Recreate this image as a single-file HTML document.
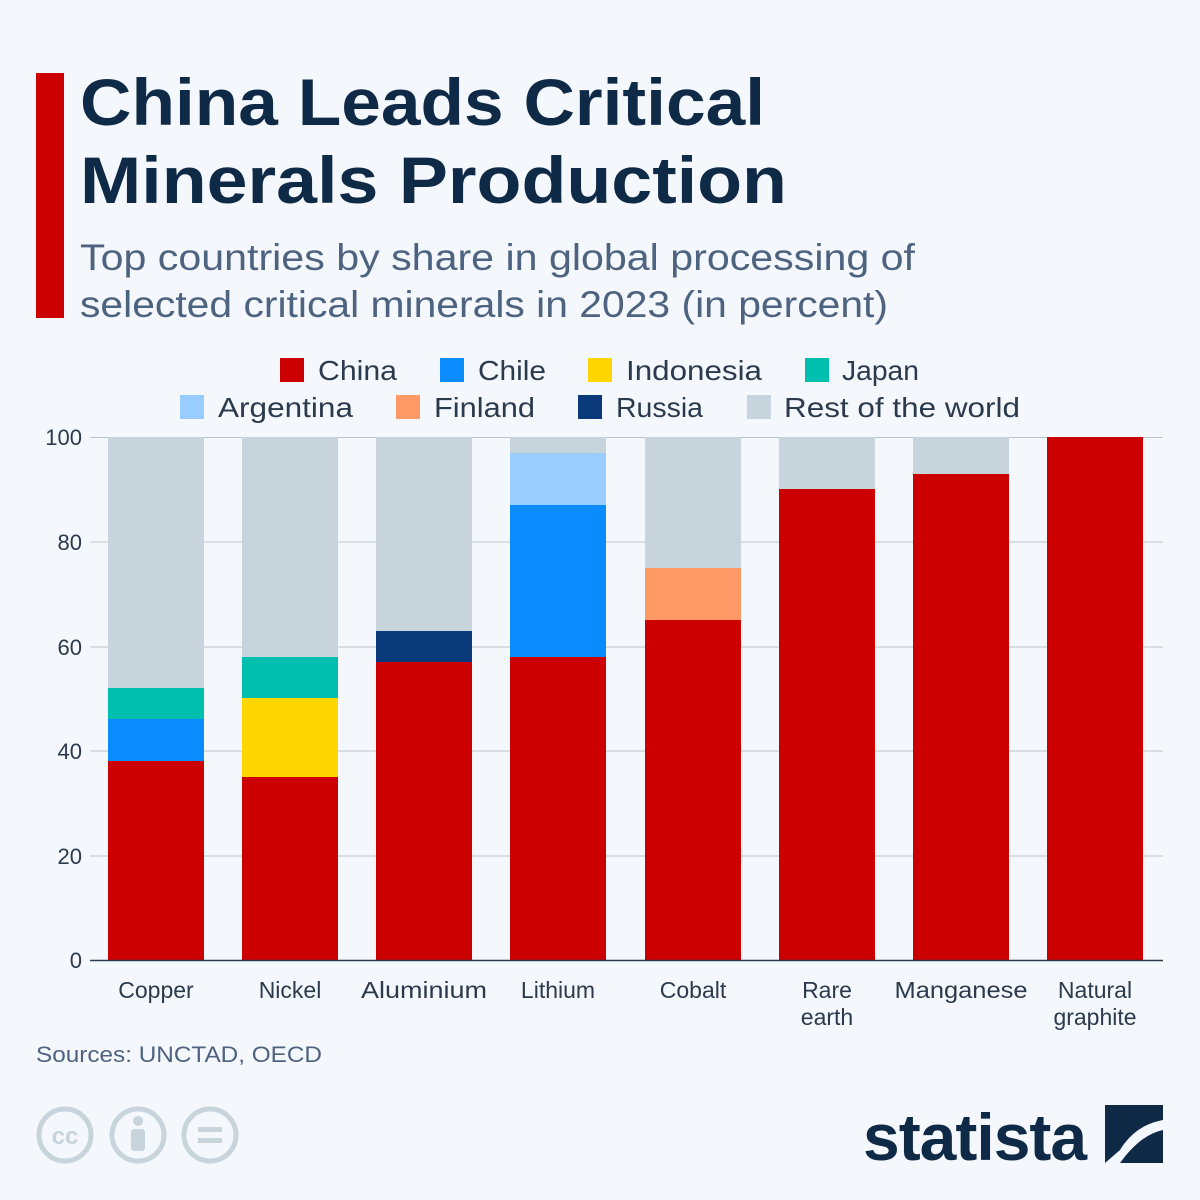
<!DOCTYPE html>
<html><head><meta charset="utf-8"><style>
html,body{margin:0;padding:0;background:#f4f7fb;}
svg{display:block;font-family:"Liberation Sans",sans-serif;}
</style></head><body>
<svg width="1200" height="1200" viewBox="0 0 1200 1200" xmlns="http://www.w3.org/2000/svg">
<rect width="1200" height="1200" fill="#f4f7fb"/>
<rect x="36" y="73" width="28" height="245" fill="#cc0000"/>
<text x="80" y="125" font-size="66" font-weight="bold" fill="#0f2a47" textLength="685" lengthAdjust="spacingAndGlyphs">China Leads Critical</text>
<text x="80" y="203" font-size="66" font-weight="bold" fill="#0f2a47" textLength="707" lengthAdjust="spacingAndGlyphs">Minerals Production</text>
<text x="80" y="270" font-size="37" fill="#4d6380" textLength="835" lengthAdjust="spacingAndGlyphs">Top countries by share in global processing of</text>
<text x="80" y="317" font-size="37" fill="#4d6380" textLength="808" lengthAdjust="spacingAndGlyphs">selected critical minerals in 2023 (in percent)</text>
<g font-size="28" fill="#2b3a4d">
<rect x="280" y="358" width="24" height="24" fill="#cc0000"/><text x="318" y="380" textLength="79" lengthAdjust="spacingAndGlyphs">China</text>
<rect x="440" y="358" width="24" height="24" fill="#0a8cff"/><text x="478" y="380" textLength="68" lengthAdjust="spacingAndGlyphs">Chile</text>
<rect x="588" y="358" width="24" height="24" fill="#ffd600"/><text x="626" y="380" textLength="136" lengthAdjust="spacingAndGlyphs">Indonesia</text>
<rect x="805" y="358" width="24" height="24" fill="#00bfae"/><text x="842" y="380" textLength="77" lengthAdjust="spacingAndGlyphs">Japan</text>
<rect x="180" y="395" width="24" height="24" fill="#99ccff"/><text x="218" y="417" textLength="135" lengthAdjust="spacingAndGlyphs">Argentina</text>
<rect x="396" y="395" width="24" height="24" fill="#ff9966"/><text x="434" y="417" textLength="101" lengthAdjust="spacingAndGlyphs">Finland</text>
<rect x="578" y="395" width="24" height="24" fill="#0a3a7a"/><text x="616" y="417" textLength="87" lengthAdjust="spacingAndGlyphs">Russia</text>
<rect x="747" y="395" width="24" height="24" fill="#c8d4dc"/><text x="784" y="417" textLength="236" lengthAdjust="spacingAndGlyphs">Rest of the world</text>
</g>
<g stroke="#b8c4ce" stroke-width="1">
<line x1="90" x2="1163" y1="437.5" y2="437.5"/><line x1="90" x2="1163" y1="542" y2="542"/>
<line x1="90" x2="1163" y1="647" y2="647"/><line x1="90" x2="1163" y1="751" y2="751"/>
<line x1="90" x2="1163" y1="856" y2="856"/>
</g>
<g font-size="22" fill="#2b3a4d" text-anchor="end">
<text x="82" y="445">100</text><text x="82" y="550">80</text><text x="82" y="655">60</text>
<text x="82" y="759">40</text><text x="82" y="864">20</text><text x="82" y="968">0</text>
</g>
<g>
<rect x="108" y="437" width="96" height="252" fill="#c8d4dc"/>
<rect x="108" y="688" width="96" height="32" fill="#00bfae"/>
<rect x="108" y="719" width="96" height="43" fill="#0a8cff"/>
<rect x="108" y="761" width="96" height="199" fill="#cc0000"/>

<rect x="242" y="437" width="96" height="221" fill="#c8d4dc"/>
<rect x="242" y="657" width="96" height="42" fill="#00bfae"/>
<rect x="242" y="698" width="96" height="79" fill="#ffd600"/>
<rect x="242" y="777" width="96" height="183" fill="#cc0000"/>

<rect x="376" y="437" width="96" height="195" fill="#c8d4dc"/>
<rect x="376" y="631" width="96" height="32" fill="#0a3a7a"/>
<rect x="376" y="662" width="96" height="298" fill="#cc0000"/>

<rect x="510" y="437" width="96" height="17" fill="#c8d4dc"/>
<rect x="510" y="453" width="96" height="53" fill="#99ccff"/>
<rect x="510" y="505" width="96" height="152" fill="#0a8cff"/>
<rect x="510" y="657" width="96" height="303" fill="#cc0000"/>

<rect x="645" y="437" width="96" height="132" fill="#c8d4dc"/>
<rect x="645" y="568" width="96" height="53" fill="#ff9966"/>
<rect x="645" y="620" width="96" height="340" fill="#cc0000"/>

<rect x="779" y="437" width="96" height="53" fill="#c8d4dc"/>
<rect x="779" y="489" width="96" height="471" fill="#cc0000"/>

<rect x="913" y="437" width="96" height="38" fill="#c8d4dc"/>
<rect x="913" y="474" width="96" height="486" fill="#cc0000"/>

<rect x="1047" y="437" width="96" height="523" fill="#cc0000"/>
</g>
<line x1="90" x2="1163" y1="960.5" y2="960.5" stroke="#2b3a4d" stroke-width="1.5"/>
<g font-size="23" fill="#2b3a4d" text-anchor="middle">
<text x="156" y="998">Copper</text><text x="290" y="998">Nickel</text>
<text x="424" y="998" textLength="126" lengthAdjust="spacingAndGlyphs">Aluminium</text><text x="558" y="998">Lithium</text>
<text x="693" y="998">Cobalt</text><text x="827" y="998">Rare</text><text x="827" y="1025">earth</text>
<text x="961" y="998" textLength="133" lengthAdjust="spacingAndGlyphs">Manganese</text><text x="1095" y="998">Natural</text><text x="1095" y="1025">graphite</text>
</g>
<text x="36" y="1062" font-size="22" fill="#4d6380" textLength="286" lengthAdjust="spacingAndGlyphs">Sources: UNCTAD, OECD</text>
<g fill="none" stroke="#c8d4dc" stroke-width="5">
<circle cx="65" cy="1135" r="26"/><circle cx="138" cy="1135" r="26"/><circle cx="210" cy="1135" r="26"/>
</g>
<text x="65" y="1144" font-size="24" font-weight="bold" fill="#c8d4dc" text-anchor="middle">cc</text>
<circle cx="138" cy="1121" r="5" fill="#c8d4dc"/><rect x="131" y="1129" width="14" height="22" rx="3" fill="#c8d4dc"/>
<rect x="198" y="1127" width="24" height="5" fill="#c8d4dc"/><rect x="198" y="1138" width="24" height="5" fill="#c8d4dc"/>
<text x="863" y="1160" font-size="66" font-weight="bold" fill="#0f2a47" letter-spacing="-1">statista</text>
<path d="M1105 1105 H1163 V1120 Q1135 1125 1120 1150 L1105 1163 Z" fill="#0f2a47"/>
<path d="M1163 1130 V1163 H1120 Q1140 1135 1163 1130 Z" fill="#0f2a47"/>
</svg>
</body></html>
